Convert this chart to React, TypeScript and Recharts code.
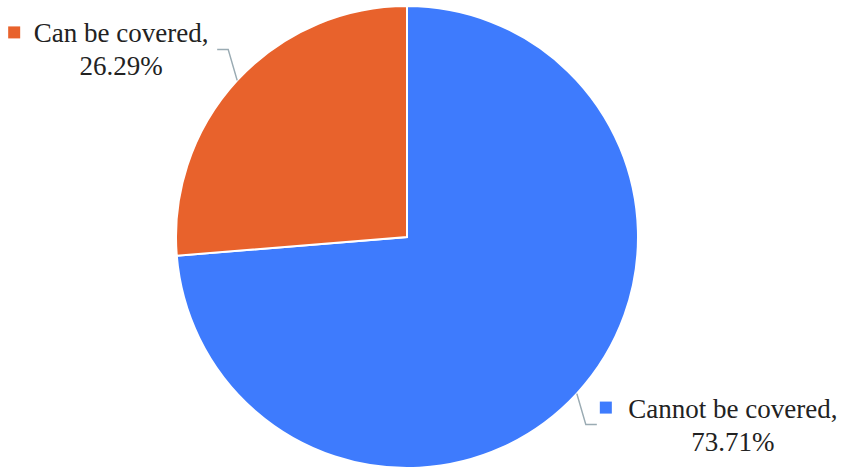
import { Cell, Pie, PieChart } from 'recharts';

const categories = ['Cannot be covered', 'Can be covered'];
const shares = [73.71, 26.29];
const colors = ['#3E7BFD', '#E8622C'];

const data = categories.map((name, i) => ({ name, value: shares[i] }));

const RAD = Math.PI / 180;
const LEADER = '#9aabb3';
const TEXT = '#222222';
const FONT_FAMILY = '"Liberation Serif", "Times New Roman", serif';

/** Elbow leader line plus a legend square and two-line text, like the original export. */
function renderLabel(props: any) {
  const { cx, cy, midAngle, outerRadius, index, fill } = props;
  const cos = Math.cos(-midAngle * RAD);
  const sin = Math.sin(-midAngle * RAD);
  const sx = cx + outerRadius * cos;
  const sy = cy + outerRadius * sin;
  const dir = cos >= 0 ? 1 : -1;
  const vdir = sin >= 0 ? 1 : -1;
  const ex = sx + dir * 9;
  const ey = sy + vdir * 31;
  const hx = ex + dir * 11;
  const center = dir > 0 ? hx + 136 : hx - 96;
  const square = dir > 0 ? hx + 3 : center - 113;
  return (
    <g key={`label-${index}`}>
      <polyline
        points={`${sx},${sy} ${ex},${ey} ${hx},${ey}`}
        fill="none"
        stroke={LEADER}
        strokeWidth={1.5}
      />
      <rect x={square} y={ey - 23} width={12} height={12} fill={fill} />
      <text x={center} y={ey - 7} textAnchor="middle" fill={TEXT} stroke="none" fontFamily={FONT_FAMILY} fontSize={27}>
        {`${categories[index]},`}
      </text>
      <text x={center} y={ey + 26} textAnchor="middle" fill={TEXT} stroke="none" fontFamily={FONT_FAMILY} fontSize={27}>
        {`${shares[index].toFixed(2)}%`}
      </text>
    </g>
  );
}

export default function App() {
  return (
    <div style={{ position: 'absolute', left: 0, top: 0, width: 850, height: 473, background: '#fff' }}>
      <PieChart width={850} height={473} margin={{ top: 0, right: 0, bottom: 0, left: 0 }}>
        <Pie
          data={data}
          dataKey="value"
          nameKey="name"
          cx={407}
          cy={237}
          outerRadius={231}
          startAngle={90}
          endAngle={-270}
          stroke="#ffffff"
          strokeWidth={2}
          label={renderLabel}
          labelLine={false}
          isAnimationActive={false}
        >
          {data.map((d, i) => (
            <Cell key={d.name} fill={colors[i]} />
          ))}
        </Pie>
      </PieChart>
    </div>
  );
}
